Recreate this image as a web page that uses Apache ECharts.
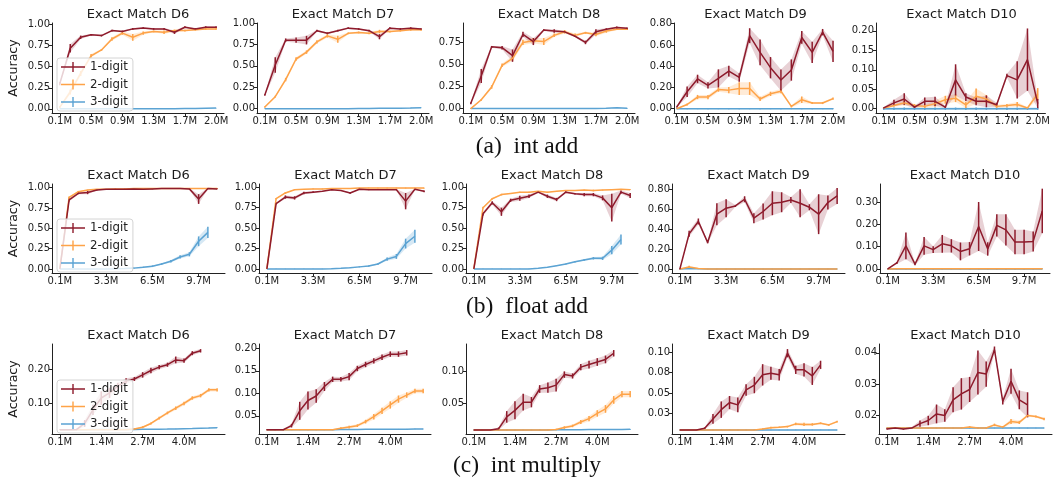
<!DOCTYPE html>
<html><head><meta charset="utf-8">
<script src="https://cdn.jsdelivr.net/npm/echarts@6/dist/echarts.min.js"></script>
<style>html,body{margin:0;padding:0;background:#fff}#c{width:1053px;height:479px}</style>
</head><body><div id="c"></div>
<script>
// ---------- tick labels ----------
const XT_A_IDX = [0,3,6,9,12,15];
const XT_A_LAB = ['0.1M','0.5M','0.9M','1.3M','1.7M','2.0M'];
const XT_B_IDX = [0,5,10,15];
const XT_B_LAB = ['0.1M','3.3M','6.5M','9.7M'];
const XT_C_IDX = [0,5,10,15];
const XT_C_LAB = ['0.1M','1.4M','2.7M','4.0M'];

const YT_Q = [0,0.25,0.5,0.75,1.0];       const YL_Q = ['0.00','0.25','0.50','0.75','1.00'];
const YT_Q3 = [0,0.25,0.5,0.75];          const YL_Q3 = ['0.00','0.25','0.50','0.75'];
const YT_P8 = [0,0.2,0.4,0.6,0.8];        const YL_P8 = ['0.00','0.20','0.40','0.60','0.80'];
const YT_A10 = [0,0.05,0.1,0.15,0.2];     const YL_A10 = ['0.00','0.05','0.10','0.15','0.20'];
const YT_B10 = [0,0.1,0.2,0.3];           const YL_B10 = ['0.00','0.10','0.20','0.30'];
const YT_C6 = [0.1,0.2];                  const YL_C6 = ['0.10','0.20'];
const YT_C7 = [0.05,0.1,0.15,0.2];        const YL_C7 = ['0.05','0.10','0.15','0.20'];
const YT_C8 = [0.05,0.1];                 const YL_C8 = ['0.05','0.10'];
const YT_C9 = [0,0.025,0.05,0.075,0.1];   const YL_C9 = ['0.00','0.03','0.05','0.08','0.10'];
const YT_C10 = [0.02,0.03,0.04];          const YL_C10 = ['0.02','0.03','0.04'];

const SERIES_NAMES = ['1-digit','2-digit','3-digit'];
const ROW_CAPTIONS = ['(a)\u2002int add','(b)\u2002float add','(c)\u2002int multiply'];

// ---------- (a) int add : 16 checkpoints ----------
const A6_1  = [0.30,0.72,0.85,0.88,0.87,0.93,0.92,0.95,0.96,0.95,0.95,0.91,0.97,0.95,0.97,0.97];
const A6_1e = [0.02,0.05,0.02,0.01,0.01,0.01,0.01,0.01,0.01,0.01,0.01,0.02,0.01,0.01,0.01,0.01];
const A6_2  = [0.02,0.20,0.42,0.63,0.70,0.83,0.90,0.85,0.90,0.92,0.91,0.93,0.93,0.94,0.95,0.95];
const A6_2e = [0.01,0.03,0.03,0.02,0.01,0.02,0.02,0.04,0.02,0.01,0.02,0.01,0.01,0.01,0.01,0.01];
const A6_3  = [0,0,0,0,0,0,0,0,0,0,0.001,0.002,0.003,0.004,0.006,0.008];
const A6_3e = [0.002,0.002,0.002,0.002,0.002,0.002,0.002,0.002,0.002,0.002,0.002,0.002,0.002,0.002,0.002,0.002];

const A7_1  = [0.16,0.51,0.80,0.80,0.80,0.91,0.88,0.91,0.94,0.93,0.91,0.84,0.94,0.93,0.94,0.93];
const A7_1e = [0.01,0.09,0.02,0.03,0.05,0.01,0.01,0.01,0.01,0.01,0.01,0.03,0.01,0.01,0.01,0.01];
const A7_2  = [0.02,0.14,0.34,0.58,0.66,0.78,0.85,0.81,0.88,0.89,0.88,0.90,0.90,0.91,0.92,0.92];
const A7_2e = [0.01,0.01,0.02,0.02,0.02,0.02,0.02,0.04,0.01,0.01,0.01,0.02,0.01,0.01,0.01,0.01];
const A7_3  = [0,0,0,0,0,0,0,0,0.001,0.002,0.003,0.004,0.005,0.006,0.008,0.012];
const A7_3e = [0.002,0.002,0.002,0.002,0.002,0.002,0.002,0.002,0.002,0.002,0.002,0.002,0.002,0.002,0.002,0.002];

const A8_1  = [0.06,0.37,0.70,0.69,0.60,0.84,0.76,0.89,0.88,0.87,0.82,0.75,0.87,0.90,0.92,0.91];
const A8_1e = [0.01,0.08,0.01,0.02,0.07,0.03,0.04,0.01,0.02,0.01,0.01,0.02,0.03,0.01,0.01,0.01];
const A8_2  = [0.0,0.10,0.245,0.49,0.57,0.75,0.77,0.76,0.83,0.87,0.83,0.86,0.84,0.88,0.90,0.90];
const A8_2e = [0.005,0.01,0.02,0.02,0.03,0.03,0.03,0.04,0.02,0.02,0.02,0.01,0.02,0.02,0.01,0.01];
const A8_3  = [0,0,0,0,0,0,0,0,0,0,0,0.001,0.002,0.005,0.01,0.004];
const A8_3e = [0.003,0.003,0.003,0.003,0.003,0.003,0.003,0.003,0.003,0.003,0.003,0.003,0.003,0.003,0.003,0.003];

const A9_1  = [0.016,0.16,0.28,0.22,0.285,0.354,0.294,0.687,0.53,0.386,0.27,0.364,0.67,0.53,0.72,0.54];
const A9_1e = [0.005,0.05,0.04,0.03,0.085,0.05,0.04,0.07,0.12,0.10,0.10,0.10,0.06,0.10,0.03,0.10];
const A9_2  = [0.0,0.04,0.11,0.11,0.18,0.175,0.19,0.19,0.092,0.14,0.165,0.022,0.085,0.054,0.054,0.095];
const A9_2e = [0.002,0.01,0.02,0.02,0.02,0.03,0.06,0.06,0.02,0.02,0.02,0.01,0.03,0.01,0.01,0.01];
const A9_3  = [0,0,0,0,0,0,0,0,0,0,0,0,0,0,0,0];
const A9_3e = [0.004,0.004,0.004,0.004,0.004,0.004,0.004,0.004,0.004,0.004,0.004,0.004,0.004,0.004,0.004,0.004];

const A10_1  = [0.002,0.015,0.025,0.004,0.019,0.019,0.004,0.074,0.030,0.019,0.019,0.010,0.085,0.074,0.126,0.013];
const A10_1e = [0.002,0.008,0.015,0.003,0.010,0.012,0.003,0.040,0.010,0.010,0.015,0.005,0.005,0.048,0.080,0.012];
const A10_2  = [0.002,0.008,0.015,0.008,0.006,0.013,0.023,0.027,0.010,0.032,0.025,0.006,0.008,0.011,0.002,0.038];
const A10_2e = [0.001,0.003,0.006,0.004,0.004,0.008,0.010,0.010,0.008,0.020,0.010,0.004,0.004,0.006,0.002,0.015];
const A10_3  = [0,0,0,0,0,0,0,0,0,0,0,0,0,0,0,0];
const A10_3e = [0.003,0.003,0.003,0.003,0.003,0.003,0.003,0.003,0.003,0.003,0.003,0.003,0.003,0.003,0.003,0.003];

// ---------- (b) float add : 18 checkpoints ----------
const B6_1  = [0.0,0.85,0.93,0.94,0.97,0.98,0.98,0.98,0.985,0.98,0.985,0.99,0.99,0.99,0.985,0.86,0.99,0.985];
const B6_1e = [0.002,0.02,0.01,0.02,0.005,0.005,0.005,0.005,0.005,0.005,0.005,0.005,0.005,0.005,0.005,0.06,0.005,0.005];
const B6_2  = [0.0,0.88,0.95,0.97,0.98,0.98,0.985,0.985,0.99,0.99,0.99,0.99,0.99,0.99,0.99,0.99,0.99,0.99];
const B6_2e = [0.002,0.01,0.01,0.005,0.005,0.005,0.005,0.005,0.005,0.005,0.005,0.005,0.005,0.005,0.005,0.005,0.005,0.005];
const B6_3  = [0,0,0,0,0,0,0.002,0.005,0.01,0.02,0.033,0.06,0.094,0.147,0.18,0.34,0.45];
const B6_3e = [0.002,0.002,0.002,0.002,0.002,0.002,0.002,0.003,0.005,0.008,0.01,0.01,0.015,0.02,0.025,0.06,0.07];

const B7_1  = [0.0,0.80,0.88,0.87,0.93,0.94,0.95,0.97,0.96,0.93,0.975,0.97,0.97,0.97,0.97,0.83,0.975,0.95];
const B7_1e = [0.002,0.01,0.02,0.02,0.015,0.01,0.005,0.005,0.005,0.01,0.005,0.005,0.005,0.005,0.005,0.10,0.005,0.01];
const B7_2  = [0.0,0.86,0.93,0.97,0.975,0.98,0.98,0.985,0.985,0.985,0.99,0.99,0.99,0.99,0.99,0.99,0.99,0.99];
const B7_2e = [0.002,0.01,0.01,0.005,0.005,0.005,0.005,0.005,0.005,0.005,0.005,0.005,0.005,0.005,0.005,0.005,0.005,0.005];
const B7_3  = [0,0,0,0,0,0,0,0.003,0.008,0.015,0.025,0.035,0.06,0.12,0.153,0.31,0.40];
const B7_3e = [0.002,0.002,0.002,0.002,0.002,0.002,0.002,0.003,0.004,0.005,0.006,0.008,0.01,0.02,0.03,0.06,0.08];

const B8_1  = [0.0,0.675,0.81,0.70,0.84,0.865,0.89,0.94,0.89,0.85,0.94,0.92,0.91,0.91,0.87,0.75,0.94,0.90];
const B8_1e = [0.002,0.02,0.02,0.05,0.02,0.03,0.02,0.01,0.02,0.02,0.01,0.01,0.02,0.02,0.03,0.17,0.02,0.03];
const B8_2  = [0.0,0.75,0.86,0.91,0.925,0.94,0.94,0.95,0.94,0.95,0.96,0.96,0.965,0.96,0.965,0.97,0.975,0.97];
const B8_2e = [0.002,0.01,0.01,0.01,0.005,0.005,0.005,0.005,0.005,0.005,0.005,0.005,0.005,0.01,0.005,0.005,0.005,0.005];
const B8_3  = [0,0,0,0,0,0,0,0.008,0.02,0.04,0.06,0.087,0.11,0.13,0.13,0.23,0.36];
const B8_3e = [0.002,0.002,0.002,0.002,0.002,0.002,0.002,0.003,0.004,0.005,0.006,0.008,0.01,0.015,0.02,0.05,0.06];

const B9_1  = [0.0,0.353,0.477,0.267,0.55,0.61,0.633,0.70,0.51,0.577,0.66,0.67,0.693,0.66,0.62,0.55,0.667,0.733];
const B9_1e = [0.005,0.03,0.03,0.01,0.11,0.09,0.01,0.03,0.05,0.08,0.12,0.10,0.03,0.14,0.03,0.20,0.07,0.08];
const B9_2  = [0.0,0.02,0.005,0,0,0,0,0,0,0,0,0,0,0,0,0,0,0];
const B9_2e = [0.002,0.012,0.005,0.002,0.002,0.002,0.002,0.002,0.002,0.002,0.002,0.002,0.002,0.002,0.002,0.002,0.002,0.002];
const B9_3  = [0,0.005,0.002,0,0,0,0,0,0,0,0,0,0,0,0,0,0,0];
const B9_3e = [0.002,0.006,0.003,0.002,0.002,0.002,0.002,0.002,0.002,0.002,0.002,0.002,0.002,0.002,0.002,0.002,0.002,0.002];

const B10_1  = [0.0,0.027,0.104,0.022,0.104,0.087,0.113,0.104,0.079,0.091,0.191,0.090,0.196,0.176,0.121,0.121,0.124,0.261];
const B10_1e = [0.002,0.005,0.06,0.005,0.04,0.015,0.04,0.03,0.04,0.03,0.11,0.03,0.05,0.07,0.055,0.055,0.045,0.10];
const B10_2  = [0,0.001,0.001,0.001,0.001,0.001,0.001,0.001,0.001,0.001,0.001,0.001,0.001,0.001,0.001,0.001,0.001,0.001];
const B10_2e = [0.001,0.002,0.002,0.002,0.002,0.002,0.002,0.002,0.002,0.002,0.002,0.002,0.002,0.002,0.002,0.002,0.002,0.002];
const B10_3  = [0,0,0,0,0,0,0,0,0,0,0,0,0,0,0,0,0,0];
const B10_3e = [0.001,0.001,0.001,0.001,0.001,0.001,0.001,0.001,0.001,0.001,0.001,0.001,0.001,0.001,0.001,0.001,0.001,0.001];

// ---------- (c) int multiply : 20 checkpoints ----------
const C6_1  = [0.0216,0.0216,0.022,0.04,0.08,0.115,0.13,0.15,0.165,0.171,0.183,0.196,0.206,0.213,0.227,0.225,0.247,0.254];
const C6_1e = [0.001,0.001,0.002,0.01,0.015,0.02,0.015,0.01,0.008,0.006,0.008,0.008,0.006,0.006,0.01,0.006,0.006,0.005];
const C6_2  = [0.0216,0.0216,0.0216,0.0216,0.0216,0.0216,0.0216,0.0216,0.0216,0.024,0.029,0.040,0.056,0.071,0.085,0.099,0.115,0.122,0.139,0.139];
const C6_2e = [0.001,0.001,0.001,0.001,0.001,0.001,0.001,0.001,0.001,0.002,0.003,0.003,0.004,0.004,0.005,0.005,0.005,0.005,0.005,0.005];
const C6_3  = [0.0216,0.0216,0.0217,0.0218,0.0219,0.022,0.0221,0.0222,0.0224,0.0226,0.0228,0.023,0.0233,0.0236,0.024,0.0245,0.025,0.0258,0.0266,0.0275];
const C6_3e = [0.0005,0.0005,0.0005,0.0005,0.0005,0.0005,0.0005,0.0005,0.0005,0.0005,0.0005,0.0005,0.0005,0.0005,0.0005,0.0005,0.0005,0.0005,0.0005,0.0005];

const C7_1  = [0.019,0.019,0.019,0.028,0.061,0.084,0.094,0.115,0.131,0.131,0.137,0.155,0.164,0.172,0.180,0.187,0.187,0.190];
const C7_1e = [0.001,0.001,0.001,0.004,0.02,0.02,0.015,0.01,0.006,0.005,0.008,0.006,0.006,0.006,0.006,0.006,0.006,0.006];
const C7_2  = [0.019,0.019,0.019,0.019,0.019,0.019,0.019,0.019,0.019,0.0225,0.025,0.028,0.037,0.048,0.061,0.074,0.087,0.096,0.105,0.105];
const C7_2e = [0.001,0.001,0.001,0.001,0.001,0.001,0.001,0.001,0.001,0.002,0.003,0.003,0.004,0.006,0.007,0.008,0.008,0.006,0.005,0.005];
const C7_3  = [0.019,0.019,0.019,0.019,0.019,0.019,0.019,0.019,0.0192,0.0194,0.0196,0.0197,0.0198,0.0199,0.020,0.020,0.0202,0.0203,0.0204,0.0205];
const C7_3e = [0.0005,0.0005,0.0005,0.0005,0.0005,0.0005,0.0005,0.0005,0.0005,0.0005,0.0005,0.0005,0.0005,0.0005,0.0005,0.0005,0.0005,0.0005,0.0005,0.0005];

const C8_1  = [0.0082,0.0082,0.0082,0.010,0.0286,0.0388,0.0515,0.0515,0.072,0.074,0.078,0.0944,0.0923,0.106,0.110,0.114,0.118,0.1276];
const C8_1e = [0.0005,0.0005,0.0005,0.002,0.009,0.014,0.013,0.008,0.006,0.008,0.010,0.005,0.004,0.005,0.006,0.006,0.006,0.005];
const C8_2  = [0.0082,0.0082,0.0082,0.0082,0.0082,0.0082,0.0082,0.0082,0.0082,0.0082,0.009,0.012,0.0146,0.0207,0.026,0.034,0.041,0.055,0.064,0.064];
const C8_2e = [0.0005,0.0005,0.0005,0.0005,0.0005,0.0005,0.0005,0.0005,0.0005,0.0005,0.001,0.002,0.002,0.003,0.004,0.005,0.006,0.006,0.005,0.005];
const C8_3  = [0.0082,0.0082,0.0082,0.0082,0.0082,0.0082,0.0082,0.0082,0.0083,0.0084,0.0085,0.0086,0.0087,0.0088,0.0089,0.009,0.009,0.0091,0.0091,0.0092];
const C8_3e = [0.0004,0.0004,0.0004,0.0004,0.0004,0.0004,0.0004,0.0004,0.0004,0.0004,0.0004,0.0004,0.0004,0.0004,0.0004,0.0004,0.0004,0.0004,0.0004,0.0004];

const C9_1  = [0.0053,0.0053,0.0053,0.0073,0.0187,0.030,0.0386,0.0358,0.054,0.060,0.0724,0.0744,0.0724,0.0988,0.0785,0.0785,0.0711,0.0846];
const C9_1e = [0.0003,0.0003,0.0003,0.001,0.006,0.010,0.008,0.009,0.007,0.010,0.013,0.008,0.007,0.005,0.005,0.008,0.011,0.005];
const C9_2  = [0.0053,0.0053,0.0053,0.0053,0.0053,0.0053,0.0053,0.0053,0.0053,0.0053,0.0065,0.008,0.0085,0.0093,0.0126,0.012,0.012,0.0134,0.0114,0.0154];
const C9_2e = [0.0003,0.0003,0.0003,0.0003,0.0003,0.0003,0.0003,0.0003,0.0003,0.0003,0.0008,0.001,0.001,0.001,0.0015,0.002,0.0015,0.001,0.001,0.001];
const C9_3  = [0.0053,0.0053,0.0053,0.0053,0.0053,0.0053,0.0053,0.0053,0.0053,0.0053,0.0053,0.0053,0.0053,0.0053,0.0053,0.0053,0.0053,0.0053,0.0053,0.0053];
const C9_3e = [0.0003,0.0003,0.0003,0.0003,0.0003,0.0003,0.0003,0.0003,0.0003,0.0003,0.0003,0.0003,0.0003,0.0003,0.0003,0.0003,0.0003,0.0003,0.0003,0.0003];

const C10_1  = [0.0157,0.0160,0.0157,0.0160,0.0174,0.0184,0.0205,0.0200,0.0250,0.0269,0.0283,0.0337,0.0332,0.0410,0.0245,0.0309,0.0250,0.0234];
const C10_1e = [0.0002,0.0002,0.0002,0.0003,0.001,0.0015,0.003,0.002,0.004,0.005,0.004,0.007,0.004,0.001,0.001,0.004,0.003,0.004];
const C10_2  = [0.016,0.016,0.016,0.016,0.016,0.016,0.016,0.016,0.016,0.016,0.0163,0.016,0.016,0.017,0.0163,0.0181,0.0178,0.020,0.0197,0.0189];
const C10_2e = [0.0002,0.0002,0.0002,0.0002,0.0002,0.0002,0.0002,0.0002,0.0002,0.0002,0.0003,0.0003,0.0003,0.0004,0.0003,0.0008,0.0005,0.0004,0.0003,0.0004];
const C10_3  = [0.016,0.016,0.016,0.016,0.016,0.016,0.016,0.016,0.016,0.016,0.016,0.016,0.016,0.016,0.016,0.016,0.016,0.016,0.016,0.016];
const C10_3e = [0.0001,0.0001,0.0001,0.0001,0.0001,0.0001,0.0001,0.0001,0.0001,0.0001,0.0001,0.0001,0.0001,0.0001,0.0001,0.0001,0.0001,0.0001,0.0001,0.0001];

// ---------- layout / style ----------
const ROW_TOP = [23, 184, 344];
const ROW_H = [90, 89, 90];
const ROW_NMAX = [15, 17, 19];
const ROW_XT = [[XT_A_IDX, XT_A_LAB],[XT_B_IDX, XT_B_LAB],[XT_C_IDX, XT_C_LAB]];
const CAPTION_Y = [147, 307, 466];
const LEGEND_TOP = [58, 219, 380];
const COLORS = ['#8e1b2c', '#fea348', '#5ba3d3'];
const BAND = ['rgba(142,27,44,0.2)', 'rgba(254,163,72,0.22)', 'rgba(91,163,211,0.25)'];
const TXT = '#222';
const FONT = 'DejaVu Sans';

const panels = [
  {row:0, t:'Exact Match D6',  left:52,  width:172, y:[-0.05,1.02],  yt:[YT_Q,YL_Q],     s:[[A6_1,A6_1e],[A6_2,A6_2e],[A6_3,A6_3e]]},
  {row:0, t:'Exact Match D7',  left:257, width:172, y:[-0.05,1.0],   yt:[YT_Q,YL_Q],     s:[[A7_1,A7_1e],[A7_2,A7_2e],[A7_3,A7_3e]]},
  {row:0, t:'Exact Match D8',  left:463, width:172, y:[-0.05,0.97],  yt:[YT_Q3,YL_Q3],   s:[[A8_1,A8_1e],[A8_2,A8_2e],[A8_3,A8_3e]]},
  {row:0, t:'Exact Match D9',  left:674, width:163, x:[-0.26,15.38], y:[-0.04,0.806], yt:[YT_P8,YL_P8], s:[[A9_1,A9_1e],[A9_2,A9_2e],[A9_3,A9_3e]]},
  {row:0, t:'Exact Match D10', left:876, width:171, y:[-0.011,0.22], yt:[YT_A10,YL_A10], s:[[A10_1,A10_1e],[A10_2,A10_2e],[A10_3,A10_3e]]},
  {row:1, t:'Exact Match D6',  left:52,  width:173, y:[-0.05,1.045], yt:[YT_Q,YL_Q],     s:[[B6_1,B6_1e],[B6_2,B6_2e],[B6_3,B6_3e]]},
  {row:1, t:'Exact Match D7',  left:259, width:173, y:[-0.05,1.04],  yt:[YT_Q,YL_Q],     s:[[B7_1,B7_1e],[B7_2,B7_2e],[B7_3,B7_3e]]},
  {row:1, t:'Exact Match D8',  left:466, width:172, y:[-0.05,1.04],  yt:[YT_Q,YL_Q],     s:[[B8_1,B8_1e],[B8_2,B8_2e],[B8_3,B8_3e]]},
  {row:1, t:'Exact Match D9',  left:672, width:173, y:[-0.04,0.853], yt:[YT_P8,YL_P8],   s:[[B9_1,B9_1e],[B9_2,B9_2e],[B9_3,B9_3e]]},
  {row:1, t:'Exact Match D10', left:880, width:170, y:[-0.018,0.382],yt:[YT_B10,YL_B10], s:[[B10_1,B10_1e],[B10_2,B10_2e],[B10_3,B10_3e]]},
  {row:2, t:'Exact Match D6',  left:52,  width:173, y:[0.009,0.274], yt:[YT_C6,YL_C6],   s:[[C6_1,C6_1e],[C6_2,C6_2e],[C6_3,C6_3e]]},
  {row:2, t:'Exact Match D7',  left:259, width:172, y:[0.0095,0.2095],yt:[YT_C7,YL_C7],  s:[[C7_1,C7_1e],[C7_2,C7_2e],[C7_3,C7_3e]]},
  {row:2, t:'Exact Match D8',  left:466, width:172, y:[0.002,0.142], yt:[YT_C8,YL_C8],   s:[[C8_1,C8_1e],[C8_2,C8_2e],[C8_3,C8_3e]]},
  {row:2, t:'Exact Match D9',  left:672, width:173, y:[0.0003,0.110],yt:[YT_C9,YL_C9],   s:[[C9_1,C9_1e],[C9_2,C9_2e],[C9_3,C9_3e]]},
  {row:2, t:'Exact Match D10', left:879, width:173, y:[0.0141,0.0428],yt:[YT_C10,YL_C10],s:[[C10_1,C10_1e],[C10_2,C10_2e],[C10_3,C10_3e]]}
];

function lookupLabel(ticks, labels, v) {
  for (let i = 0; i < ticks.length; i++) if (Math.abs(ticks[i] - v) < 1e-9) return labels[i];
  return '';
}

const option = {animation:false, grid:[], xAxis:[], yAxis:[], series:[], legend:[], graphic:[]};

panels.forEach((p, gi) => {
  const top = ROW_TOP[p.row], h = ROW_H[p.row], nmax = ROW_NMAX[p.row];
  const xr = p.x || [-0.05*nmax, nmax + 0.05*nmax];
  const [xIdx, xLab] = ROW_XT[p.row];
  const [yT, yL] = p.yt;
  option.grid.push({left:p.left, top:top, width:p.width, height:h});
  const axLine = {show:true, onZero:false, lineStyle:{color:'#222', width:1}};
  option.xAxis.push({
    type:'value', gridIndex:gi, min:xr[0], max:xr[1],
    axisLine:axLine, splitLine:{show:false},
    axisTick:{show:true, length:3, customValues:xIdx, lineStyle:{color:'#222', width:1}},
    axisLabel:{customValues:xIdx, margin:3, fontSize:10, color:TXT, fontFamily:FONT,
      formatter:(v)=>lookupLabel(xIdx, xLab, v)}
  });
  option.yAxis.push({
    type:'value', gridIndex:gi, min:p.y[0], max:p.y[1],
    axisLine:axLine, splitLine:{show:false},
    axisTick:{show:true, length:3, customValues:yT, lineStyle:{color:'#222', width:1}},
    axisLabel:{customValues:yT, margin:2, fontSize:10, color:TXT, fontFamily:FONT,
      formatter:(v)=>lookupLabel(yT, yL, v)}
  });
  for (let k = 2; k >= 0; k--) {
    const mean = p.s[k][0], err = p.s[k][1];
    const triples = mean.map((m, i) => [i, m - err[i], m + err[i]]);
    const col = COLORS[k], band = BAND[k];
    option.series.push({
      type:'custom', name:SERIES_NAMES[k]+' band', xAxisIndex:gi, yAxisIndex:gi, silent:true, z:1,
      data:triples, encode:{x:0, y:[1,2]},
      renderItem:(params, api) => {
        if (params.dataIndex !== 0) return null;
        const up = [], lo = [];
        for (let i = 0; i < triples.length; i++) {
          up.push(api.coord([triples[i][0], triples[i][2]]));
          lo.push(api.coord([triples[i][0], triples[i][1]]));
        }
        let pts = up.concat(lo.reverse());
        pts = echarts.graphic.clipPointsByRect(pts, params.coordSys);
        return {type:'polygon', shape:{points:pts}, style:{fill:band, stroke:null}};
      }
    });
    option.series.push({
      type:'line', name:SERIES_NAMES[k], xAxisIndex:gi, yAxisIndex:gi, z:3,
      data:mean.map((m, i) => [i, m]), showSymbol:false, symbol:'none', clip:true,
      color:col, lineStyle:{color:col, width:1.5}, emphasis:{disabled:true}
    });
    option.series.push({
      type:'custom', name:SERIES_NAMES[k]+' err', xAxisIndex:gi, yAxisIndex:gi, silent:true, z:3,
      data:triples, encode:{x:0, y:[1,2]},
      renderItem:(params, api) => {
        const x = api.value(0);
        let pts = [api.coord([x, api.value(1)]), api.coord([x, api.value(2)])];
        pts = echarts.graphic.clipPointsByRect(pts, params.coordSys);
        return {type:'line', shape:{x1:pts[0][0], y1:pts[0][1], x2:pts[1][0], y2:pts[1][1]},
                style:{stroke:col, lineWidth:1.5}};
      }
    });
  }
  option.graphic.push({type:'text', x:p.left + p.width/2, y:top - 8.5, z:10,
    style:{text:p.t, fontSize:13, fontFamily:FONT, fill:'#1a1a1a', align:'center', verticalAlign:'middle'}});
});

for (let r = 0; r < 3; r++) {
  option.graphic.push({type:'text', x:13.5, y:ROW_TOP[r] + ROW_H[r]/2, rotation:Math.PI/2, z:10,
    style:{text:'Accuracy', fontSize:12.6, fontFamily:FONT, fill:'#1a1a1a', align:'center', verticalAlign:'middle'}});
  option.graphic.push({type:'text', x:527, y:CAPTION_Y[r], z:10,
    style:{text:ROW_CAPTIONS[r], fontSize:23.5, fontFamily:'Liberation Serif', fill:'#111', align:'center', verticalAlign:'middle'}});
  option.legend.push({
    orient:'vertical', left:57, top:LEGEND_TOP[r], data:SERIES_NAMES.slice(), selectedMode:false,
    icon:'path://M0,4.3H24V5.7H0Z M11.3,0H12.7V10H11.3Z',
    itemWidth:24, itemHeight:10, itemGap:5.5, padding:[3,5,3,4],
    backgroundColor:'rgba(255,255,255,0.8)', borderColor:'#d4d4d4', borderWidth:1, borderRadius:3,
    itemStyle:{borderWidth:0},
    textStyle:{fontSize:11.8, color:TXT, fontFamily:FONT}
  });
}

const chart = echarts.init(document.getElementById('c'), null, {renderer:'canvas'});
chart.setOption(option);
</script>
</body></html>
